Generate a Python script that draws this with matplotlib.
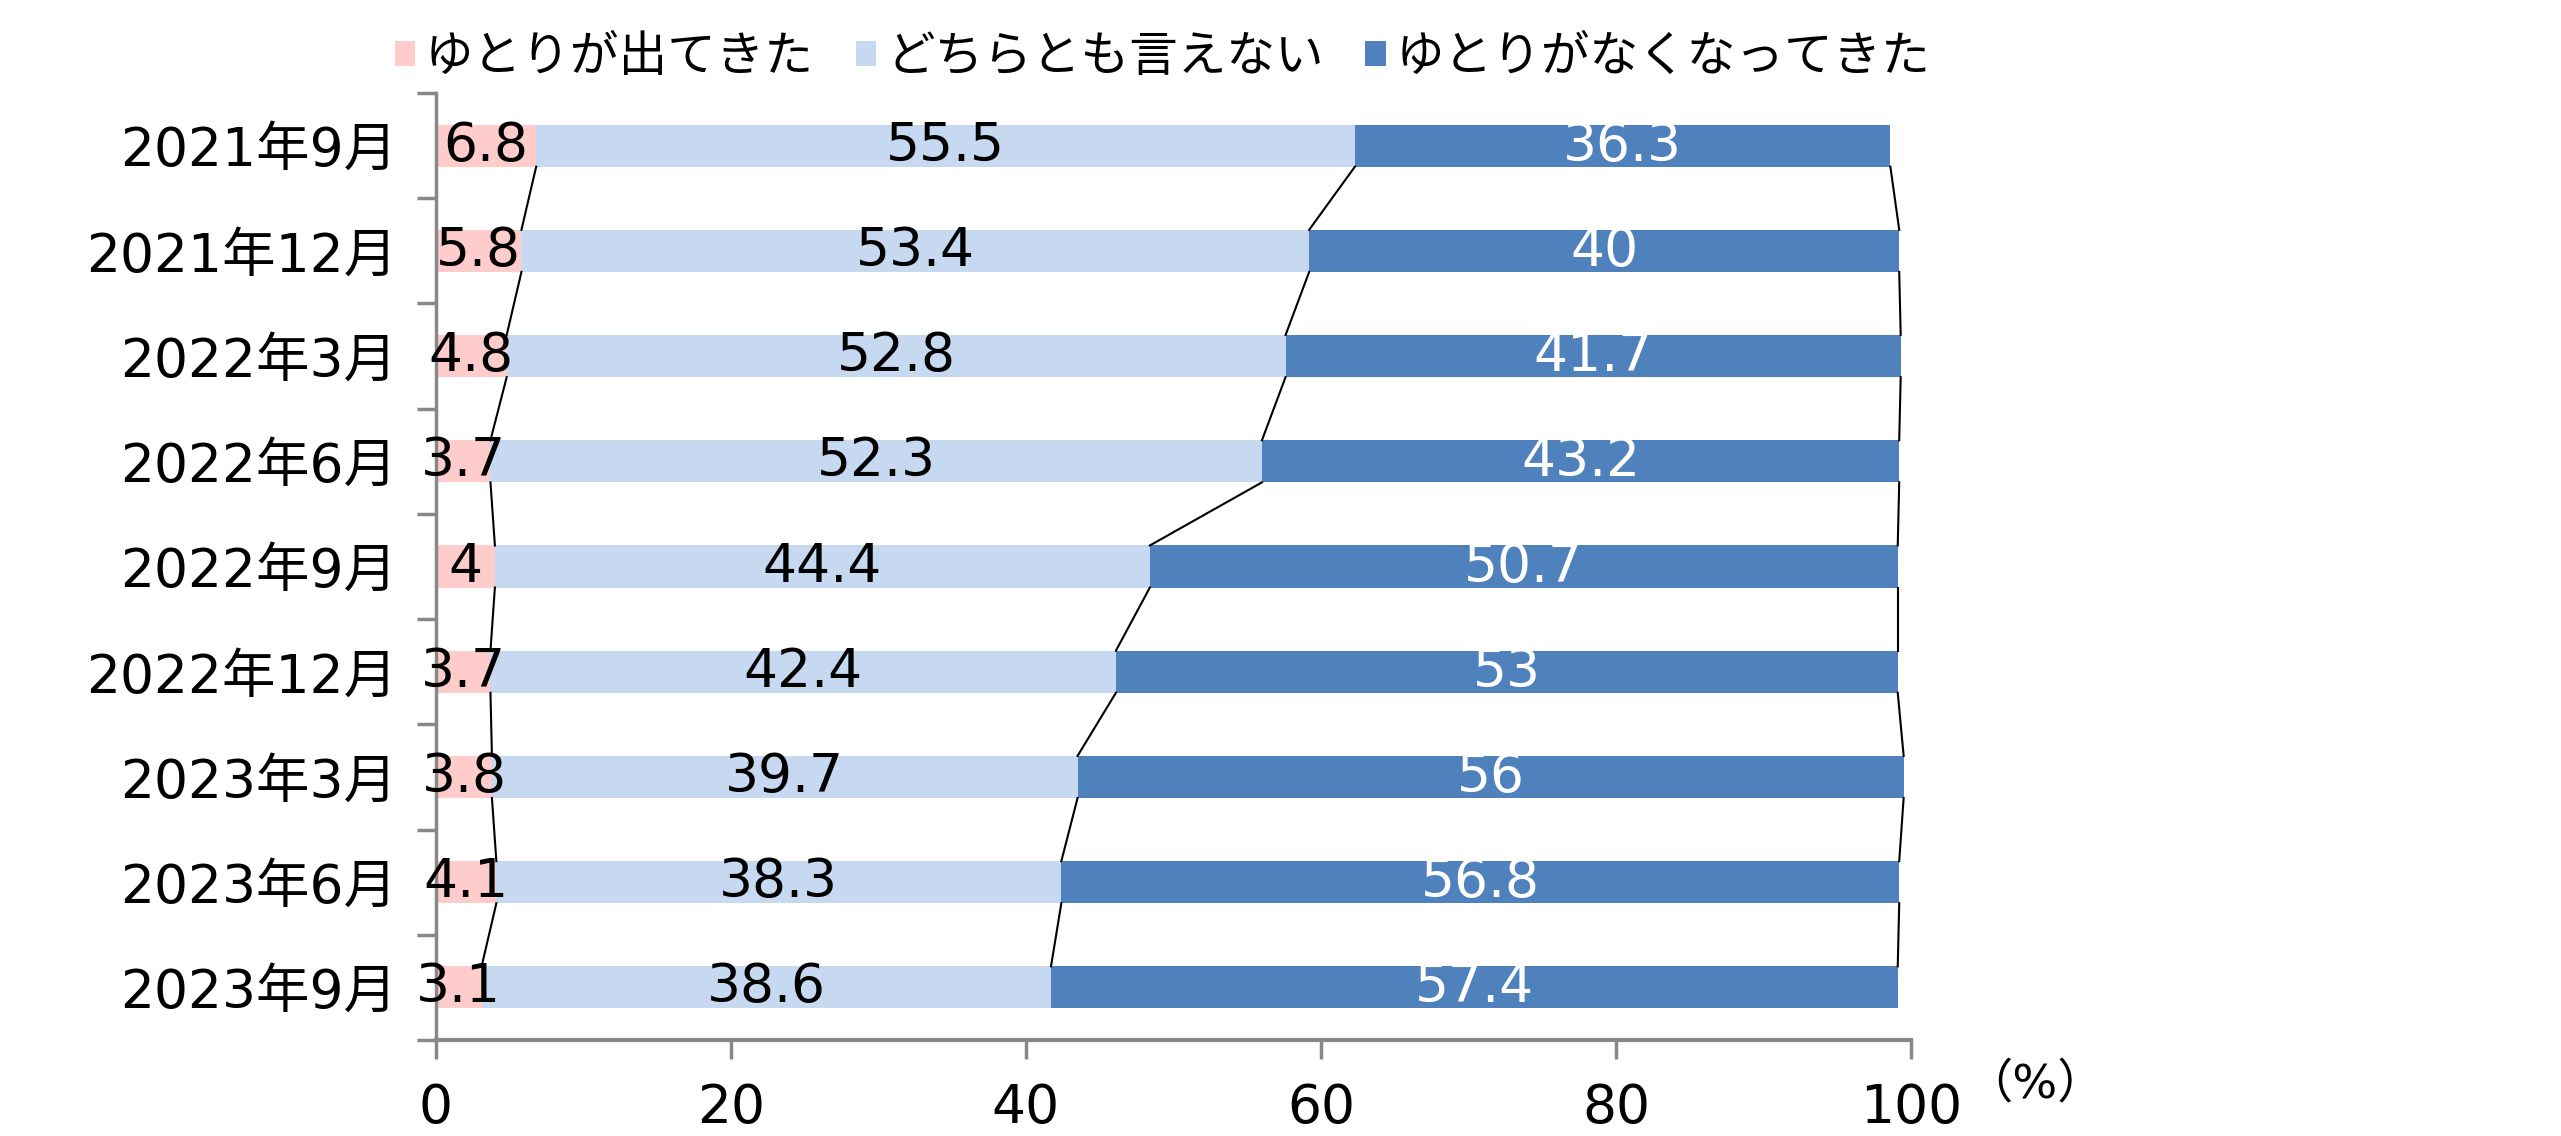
import numpy as np
import matplotlib
matplotlib.use("Agg")
import matplotlib.pyplot as plt
from matplotlib.patches import Patch

plt.rcParams["font.family"] = ["DejaVu Sans", "Noto Sans CJK JP"]

periods = ["2021年9月", "2021年12月", "2022年3月", "2022年6月", "2022年9月",
           "2022年12月", "2023年3月", "2023年6月", "2023年9月"]
better = [6.8, 5.8, 4.8, 3.7, 4, 3.7, 3.8, 4.1, 3.1]
neutral = [55.5, 53.4, 52.8, 52.3, 44.4, 42.4, 39.7, 38.3, 38.6]
worse = [36.3, 40, 41.7, 43.2, 50.7, 53, 56, 56.8, 57.4]
series_names = ["ゆとりが出てきた", "どちらとも言えない", "ゆとりがなくなってきた"]
xticks = [0, 20, 40, 60, 80, 100]

colors = ["#FFCCCC", "#C6D9F1", "#4F81BD"]
text_colors = ["black", "black", "white"]
fs = 38.5

fig = plt.figure(figsize=(25.61, 11.36), dpi=100)
ax = fig.add_axes([0.1702, 0.0845, 0.576, 0.8336])

y = np.arange(len(periods))
h = 0.4
left = np.zeros(len(periods))
cums = []
for vals, col, tc in zip([better, neutral, worse], colors, text_colors):
    vals = np.array(vals, dtype=float)
    bars = ax.barh(y, vals, left=left, height=h, color=col, edgecolor="none")
    ax.bar_label(bars, labels=["{:g}".format(v) for v in vals], label_type="center",
                 color=tc, fontsize=fs)
    left = left + vals
    cums.append(left.copy())

# series lines between bars
for cum in cums:
    for i in range(len(periods) - 1):
        ax.plot([cum[i], cum[i + 1]], [y[i] + h / 2, y[i + 1] - h / 2],
                color="black", linewidth=1.5, zorder=3)

ax.set_xlim(0, 100)
ax.set_ylim(len(periods) - 0.5, -0.5)
ax.set_xticks(xticks)
ax.set_xticklabels([str(t) for t in xticks], fontsize=fs)
ax.set_yticks(y)
ax.set_yticklabels(periods, fontsize=fs)
ax.set_yticks(np.arange(-0.5, len(periods), 1), minor=True)
ax.tick_params(axis="y", which="major", length=0, pad=28)
ax.tick_params(axis="y", which="minor", length=14, width=2.5, color="#888888")
ax.tick_params(axis="x", length=14, width=2.5, color="#888888", pad=16)

for s in ["top", "right"]:
    ax.spines[s].set_visible(False)
ax.spines["left"].set_color("#888888")
ax.spines["left"].set_linewidth(2.5)
ax.spines["bottom"].set_color("#888888")
ax.spines["bottom"].set_linewidth(3)

fig.text(2035 / 2561, 1 - 1085 / 1136, "（%）", fontsize=34, ha="center", va="center")

handles = [Patch(facecolor=c, edgecolor="none") for c in colors]
fig.legend(handles, series_names, loc="center", bbox_to_anchor=(0.454, 0.95),
           ncol=3, frameon=False, fontsize=35, handlelength=0.42, handleheight=0.42,
           handletextpad=0.2, columnspacing=0.86)

fig.savefig("out.png", dpi=100)
